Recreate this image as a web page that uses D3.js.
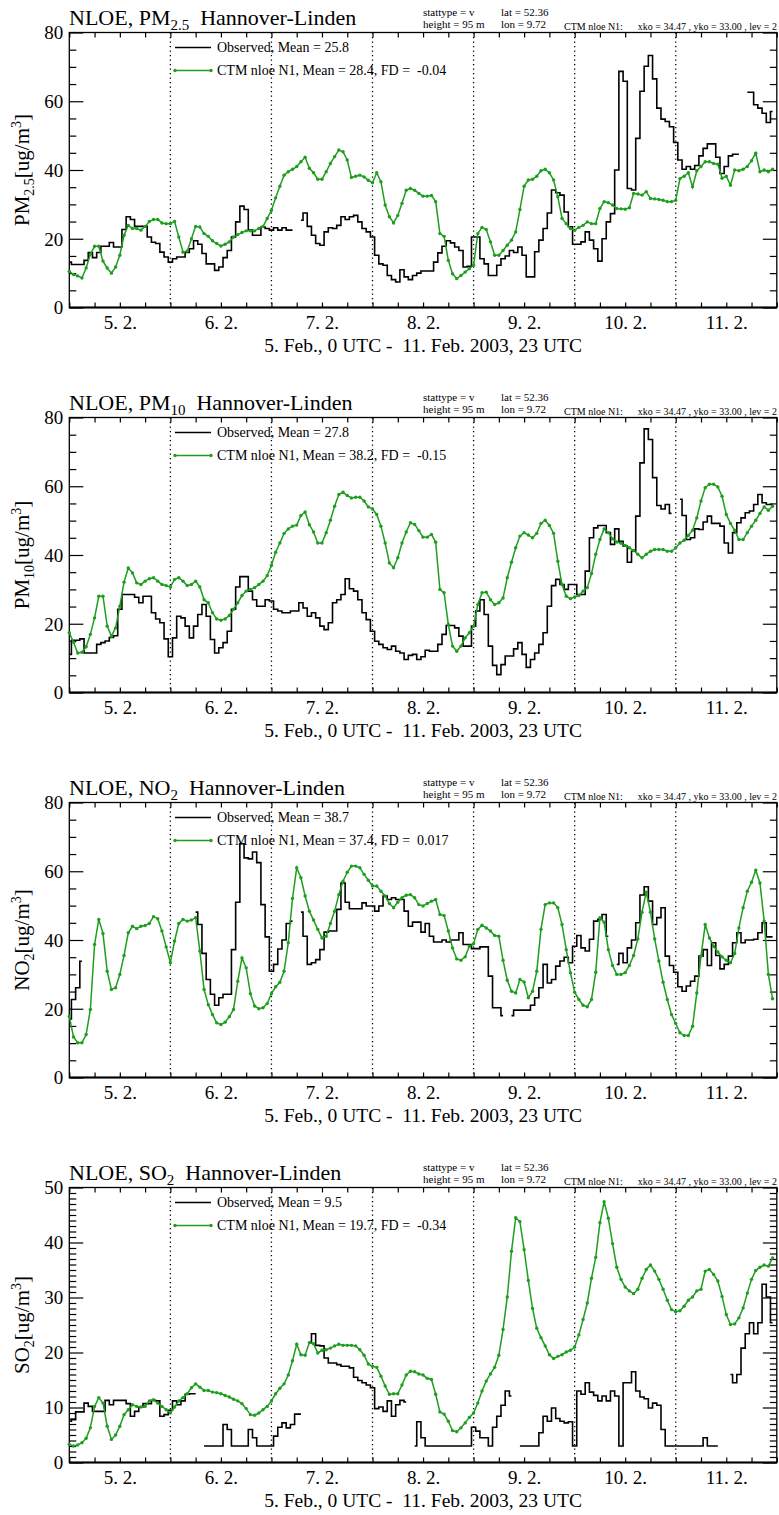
<!DOCTYPE html>
<html>
<head>
<meta charset="utf-8">
<script src="https://cdn.jsdelivr.net/npm/d3@7"></script>
<style>
  body { margin: 0; background: #fff; }
  svg { font-family: "Liberation Serif", "DejaVu Serif", serif; }
  text { white-space: pre; }
</style>
</head>
<body>
<svg id="chart" width="779" height="1515"></svg>
<script>
// hourly values, 5. Feb 0 UTC .. 11. Feb 23 UTC (168 h); null = no observation
var pm25Obs = [
  13.2, 12.5, 12.5, 12.5, 13.7, 16, 14.5, 16, 17.8, 17.8, 18.9, 17.6, 17.6, 22.7, 26.4, 25.6, 23.6, 23.6, 23.6, 20.5, 19, 18.6, 16.1, 14.7,
  13.2, 14.2, 14.7, 14.7, 16, 17.1, 19.4, 18.4, 15.7, 12.7, 12.7, 10.8, 11.8, 14.5, 16.6, 20.5, 24.9, 29.5, 28.5, 22.5, 21, 21, 23.4, 23,
  22.5, 23.2, 22.5, 23.2, 22.5, 22.5, null, 25.4, 27.5, 23.6, 21, 18.6, 18.1, 22, 23.2, 23, 23.9, 26.4, 25.6, 26.4, 26.8, 24.9, 23, 22,
  20.5, 15.2, 12.7, 12.3, 9.3, 8.1, 7.4, 11, 8.9, 8.1, 9.3, 10, 10.6, 10.6, 10.6, 13.2, 15.9, 17.8, 19.4, 18.8, 17.6, 16.6, 11.8, 12,
  20.5, 20.5, 14.2, 12.7, 9.3, 9.3, 12.3, 14.2, 15, 16.6, 16, 17.6, 15.2, 8.9, 8.9, 16.2, 19.6, 23, 27.5, 34.2, 33.4, 32.7, 27.8, 23.5,
  18.4, 18.4, 19.1, 22, 19.6, 17.1, 13.5, 20, 24.9, 27.3, 40, 68.7, 65.8, 34.6, 34.2, 49.2, 62.9, 70.2, 73.3, 66.5, 58, 54.8, 54.1, 52.6,
  48, 42.9, 40.2, 41, 40.2, 41.3, 44.1, 46.3, 47.6, 47.6, 43.7, 39, 41, 44.1, 44.6, 44.6, null, 62.6, 62.6, 59, 58, 56.5, 53.8, 57
];
var pm25Mod = [
  10.5, 9.6, 9.2, 8.6, 11.5, 15.5, 17.8, 17.8, 13.5, 11.5, 10, 11.8, 15.2, 21, 23.9, 23, 23, 22.5, 23.6, 25, 25.6, 25.6, 24.6, 24.4,
  24.4, 25, 20.5, 16.1, 16.4, 20, 23.6, 23.4, 21.5, 20.7, 19.4, 18.6, 17.9, 18.4, 19.1, 20.5, 21.2, 21.8, 22.3, 22.3, 22.3, 23, 23.6, 25.9,
  28.3, 31.9, 35.3, 38.5, 39.5, 40.2, 41, 42.4, 43.7, 40.5, 39.2, 37.3, 37.3, 39.5, 41.9, 43.9, 45.8, 45.3, 42.9, 37.8, 38.2, 38.5, 38, 37,
  36.3, 39.2, 36.6, 29.8, 26.4, 24.6, 26.8, 30.3, 34.1, 34.6, 34.1, 33.2, 32.4, 32.4, 32.6, 30.8, 21.5, 20.7, 13.7, 9.8, 8.4, 9.3, 10.3, 11.3,
  12.3, 21.5, 23.3, 22.7, 19.1, 15.2, 15.2, 16.6, 18.1, 19.6, 22, 28.5, 35.3, 37.1, 37.3, 38.2, 39.8, 40.2, 39.2, 37.1, 32.2, 25.9, 24.4, 23,
  22.5, 23.3, 23.9, 24.9, 24.4, 24.4, 28.8, 30.8, 30.5, 29.8, 28.8, 28.7, 28.6, 29, 33.2, 33, 32.7, 33.7, 31.7, 31.6, 31.4, 31.2, 30.8, 30.8,
  31.2, 37.5, 38.2, 39.2, 35.1, 39.8, 41, 42.4, 42.4, 41.9, 41.7, 37.6, 38.2, 35.6, 40, 39.8, 40.2, 41, 42.7, 44.9, 39.5, 40, 39.5, 40.2
];
var pm10Obs = [
  11.1, 15.2, 15.2, 15.6, 11.5, 11.5, 11.5, 14, 14.5, 15, 16, 16.5, 24.2, 28.5, 28.5, 28.5, 27.7, 26.1, 28, 28, 23.2, 21.4, 20.3, 15.6,
  10.4, 15.9, 22.2, 21.7, 19.3, 15.9, 19.3, 22.7, 25.6, 22.2, 15.4, 11.5, 13, 14.5, 17.8, 24.2, 30.7, 33.7, 33.7, 29.5, 27, 25.1, 25.1, 27,
  26.6, 24.2, 23.7, 23.2, 23.2, 23.7, 23.7, 26.1, 24.6, 22.2, 23.2, 21.7, 19.3, 18.3, 20.3, 26.1, 27, 28.5, 33.1, 30.2, 29.5, 27, 23.2, 21.2,
  17.8, 14.9, 14, 13, 12.5, 13.5, 12, 11.5, 9.6, 10.8, 11.1, 9.6, 10.4, 12.3, 12, 12, 14, 16.9, 19.5, 19.5, 18.8, 16.4, 13.5, 13.5,
  19.3, 23.7, 27, 22.7, 13.5, 7.9, 5.2, 8.1, 10.6, 10.6, 12.7, 14.5, 11.1, 7.3, 9.6, 11.5, 14, 17.4, 25.1, 31.1, 32.9, 31.4, 30, 31.4,
  31.4, 28.5, 28.5, 35.3, 45, 47.9, 48.6, 48.6, 46.5, 43.1, 47.6, 44, 42.6, 37.9, 41.1, 51.3, 66.8, 76.7, 73.6, 62.5, 54.4, 53.4, 54.7, 52.1,
  null, 56.2, 51.5, 44.5, 45, 47.6, 47.4, 49.6, 51.3, 49.2, 49.2, 48.4, 43.5, 40.6, 46.5, 49.4, 50.8, 52.3, 52.8, 54.7, 57.6, 55.2, 54.7, 54.7
];
var pm10Mod = [
  17.4, 14.6, 11.5, 11.7, 13.3, 16.9, 21.7, 28, 28, 19.3, 16.4, 18.8, 25.1, 32.1, 36.2, 34.8, 31.9, 31.4, 32.4, 33.1, 33.4, 32.4, 31.4, 31.1,
  30.7, 32.9, 33.4, 32.4, 31.1, 31.4, 32.4, 30.7, 27, 26.1, 23.2, 21.4, 21, 21.4, 22.4, 24.2, 26.1, 28.2, 29.5, 30, 30.5, 31.4, 32.4, 34,
  37, 40.8, 43.5, 46.3, 47.6, 48.4, 48.7, 51.5, 52.5, 48.8, 46.7, 43.5, 43.5, 46.5, 50.1, 54.2, 57.6, 58.3, 57.3, 56.6, 56.8, 56.8, 55.7, 54,
  53.4, 51.8, 48.4, 43.5, 37.7, 36.3, 39.2, 43.5, 46.7, 49.4, 48.9, 47.1, 45.2, 45.2, 46, 43.7, 30, 29, 19.8, 13.5, 12, 13.5, 15.9, 17.4,
  19.3, 25.6, 29, 29.2, 27, 25.6, 26.1, 27.5, 33.4, 37.9, 42.1, 45.5, 46.5, 45.8, 45, 46.3, 49.2, 50.1, 48.6, 46.3, 38.2, 31.4, 28, 27.3,
  27.8, 28.2, 29.5, 30.5, 34.6, 40.2, 44.5, 47.6, 46.5, 44.7, 43.8, 43.4, 42.8, 42.1, 41.3, 40.2, 39.2, 40.2, 41.1, 41.6, 41.6, 41.6, 41.1, 41.1,
  42.1, 43.5, 44.3, 45.7, 47.2, 50.8, 55.7, 59.6, 60.6, 60.6, 59.8, 57.1, 51.8, 49.2, 47.2, 44.5, 44.5, 46.5, 48.4, 50.1, 52.1, 54, 53, 54.2
];
var no2Obs = [
  17, 22.7, 26.1, 33.8, null, null, null, null, null, null, null, null, null, null, null, null, null, null, null, null, null, null, null, null,
  null, null, null, null, null, null, 48.1, 44.5, 36.1, 28.5, 24.2, 21, 23.2, 24.2, 24.2, 37.2, 51, 68, 63.9, 63.6, 65.6, 62.5, 50.3, 40.9,
  30.9, 32.9, 37.4, 40, 44.8, 45.5, null, 48.1, 41.1, 32.9, 33.4, 34.3, 37.2, 42.3, 42.6, 42.6, 48.9, 56.6, 51, 49.1, 49.1, 49.1, 50.8, 49.9,
  49.9, 48.4, 49.9, 52.8, 51.8, 52.3, 51.8, 51.8, 48.4, 44, 45.2, 45.2, 42.3, 44.8, 41.1, 39.4, 39.4, 40, 39.4, 40, 40, 42.1, 38.7, 38.7,
  37.5, 37.5, 38, 38, 29.5, 20.3, 20.3, 18, null, 18, 19.6, 19.6, 19.6, 19.6, 21, 23.2, 26.1, 32.9, 27.5, 28.5, 32.4, 33.9, 35, 33.4,
  38.2, 41.3, 37.7, 36.8, 40.2, 45.5, 46, 47.4, 41.1, null, 32.9, 36.1, 33.4, 37.7, 40, 45, 53.1, 55.5, 51.3, 44.5, 46.5, 49.4, 35.3, 32.6,
  30.6, 26.4, 25.1, 26.6, 28, 29.5, 35.3, 37.2, 32.6, 39.2, 35.5, 31.6, 32.9, 35.3, 39.2, 42.1, 39.2, 40, 40, 40.2, 42.1, 45, 40.9, 40.9
];
var no2Mod = [
  17.8, 11.8, 10.1, 10.1, 12.5, 19.8, 38.7, 46, 41.9, 30.9, 25.6, 26.1, 30, 35.5, 42.1, 44, 43.3, 44, 44.2, 44.8, 46.8, 46.2, 42.6, 38,
  33.4, 39.7, 44.8, 46, 45.5, 45.8, 46.5, 36.8, 25.6, 21.2, 18.3, 15.9, 15.4, 16.1, 17.7, 19.8, 28, 34.8, 31.9, 24.4, 20.8, 20, 20.3, 21.5,
  24.4, 26.4, 27.7, 30.9, 39.2, 52.1, 61, 58.1, 52.8, 48.4, 45.8, 43.1, 40.6, 41.1, 44.8, 48.4, 53.2, 57.1, 59.7, 61.5, 61.5, 61, 59.1, 57.4,
  55.7, 55.7, 54.2, 52.8, 50.6, 49.4, 51, 52.3, 53, 53.2, 52.3, 50.3, 49.9, 50.6, 51.3, 51.8, 47.4, 47.1, 42.6, 37.7, 34.5, 34.1, 35.1, 38.2,
  38.9, 43.1, 44.3, 43.5, 42.6, 41.3, 41.1, 34.1, 28.3, 25.1, 24.6, 28.5, 27.8, 23.2, 25.1, 30.9, 43.1, 50.3, 50.8, 50.8, 49.4, 44.5, 37.2, 30.5,
  24.8, 22.7, 21, 20.6, 22.7, 30.6, 46.5, 45.2, 37.2, 32.6, 30, 30, 30.5, 32.6, 35.5, 40.3, 48.1, 53.9, 48.1, 40.3, 33.9, 27.7, 22.7, 18.3,
  15.7, 13, 12.2, 12.2, 14.9, 24.6, 35.3, 44.5, 40.6, 38.2, 36.5, 35.1, 34.1, 33.4, 36.1, 43.5, 49.4, 54.2, 56.8, 60.3, 56.6, 45.5, 30, 22.9
];
var so2Obs = [
  7.5, 7.8, 9.2, 9.2, 10.8, 10.2, 9.3, 9.3, 9.3, 11.3, 10.5, 11.3, 11.3, 11.3, 10.7, 8.4, 9.3, 10.1, 10.7, 10.7, 11.3, 11.2, 8.4, 8.7,
  9.5, 11.2, 10.5, 11.2, 12.4, 12.5, 12.5, null, 3, 3, 3, 3, 3, 6.9, 6, 3, 3, 3, 3, 6, 4.5, 3, 3, 3,
  3, 4.8, 6.4, 7.2, 6.3, 6.9, 8.8, 8.8, null, 21.8, 23.4, 21.3, 21.2, 19, 18.1, 18.1, 17.8, 17.5, 17.5, 17.2, 15.5, 14.9, 14.5, 14.1,
  13.6, 9.8, 10.1, 9.3, 11.2, 8.4, 10.5, 11.3, 11, null, 3, 7.4, 4.5, 3, 3, 3, 3, 3, 3, 3, 3, 3, 3, 3,
  6.4, 5.7, 4.5, 4.5, 3, 6.4, 8.4, 10.4, 13, 12.1, null, 3, 3, 3, 3, 3, 5.4, 8.4, 7.5, 9.9, 8, 7.5, 7.2, 7.4,
  3, 13, 12.4, 14.5, 12.8, 12.2, 11.2, 12.1, 11.2, 13, 12.1, 3, 14.5, 14.5, 16.5, 13, 11.9, 11.6, 9.9, 10.8, 10.4, 6, 3, 3,
  3, 3, 3, 3, 3, 3, 3, 4.5, 3, 3, 3, null, null, 16, 14.5, 16, 20.8, 23.4, 25.4, 23.4, 25.4, 32.4, 30.1, 25.4
];
var so2Mod = [
  3.3, 3, 3.2, 3.6, 4.4, 6.3, 10.2, 11.8, 10.8, 6.6, 4.2, 5, 6.6, 8.7, 9.6, 10.5, 10.2, 10.1, 10.2, 11.2, 11.4, 10.8, 10.2, 9.6,
  9, 10.1, 11.2, 11.8, 12.5, 13.6, 14.3, 13.7, 13.1, 13.1, 12.8, 12.7, 12.5, 12.2, 11.9, 11.5, 11.2, 10.7, 9.8, 8.7, 8.6, 9, 9.6, 10.2,
  11.2, 12.5, 13.5, 14.3, 15.9, 18.5, 21.5, 19.6, 19.5, 21.8, 21.6, 19.9, 20.4, 20.5, 20.8, 21.2, 21.5, 21.3, 21.3, 21.3, 21.2, 20.5, 19.5, 17.9,
  17.5, 17.3, 15.7, 13.9, 12.4, 12.5, 12.5, 14.1, 15.9, 16.6, 16.5, 16.1, 15.9, 15.3, 15.1, 12.4, 9.2, 8.8, 7.5, 5.8, 5.6, 6.3, 7.2, 8.2,
  9, 10.8, 13, 14.8, 16.1, 17.3, 19.5, 24.2, 30.1, 38.4, 44.5, 43.8, 38.7, 33.1, 28, 24.4, 22.7, 21.2, 19.6, 18.9, 19.3, 19.6, 20.1, 20.4,
  21, 23.2, 26, 29, 33.5, 37.3, 43.6, 47.4, 44.4, 39.8, 35.5, 33.3, 31.9, 31.2, 30.7, 31.5, 33.5, 35.1, 35.9, 34.8, 33.3, 31.5, 29.5, 27.8,
  27.4, 27.6, 28.4, 29.5, 30.1, 31.2, 31.5, 34.8, 35.1, 34.2, 33, 30.2, 26.9, 25.1, 25.2, 26.3, 28.1, 30.8, 33.3, 34.9, 35.5, 35.9, 35.7, 37.2
];

var dayLabels = ["5. 2.", "6. 2.", "7. 2.", "8. 2.", "9. 2.", "10. 2.", "11. 2."];
var species = ["PM", "PM", "NO", "SO"];
var speciesSub = ["2.5", "10", "2", "2"];
var obsMean = ["25.8", "27.8", "38.7", "9.5"];
var modMean = ["28.4", "38.2", "37.4", "19.7"];
var modFD = ["-0.04", "-0.15", "0.017", "-0.34"];
var yMax = [80, 80, 80, 50];
var yMajor = [20, 20, 20, 10];
var yMinor = [5, 5, 5, 1];

var panels = [
  {obs: pm25Obs, mod: pm25Mod},
  {obs: pm10Obs, mod: pm10Mod},
  {obs: no2Obs, mod: no2Mod},
  {obs: so2Obs, mod: so2Mod}
];

var svg = d3.select("#chart");
var green = "#1e9e1e";
var hours = d3.range(168);

var x = d3.scaleLinear().domain([0, 168]).range([69.3, 776.8]);
var x0 = x.range()[0], x1 = x.range()[1];

var panelTop = 32.5, panelStep = 385, panelH = 275;

// strip the axis domain path and the axis' own sans-serif font
function plain(g) {
  g.select(".domain").remove();
  g.attr("font-family", null).attr("font-size", null);
}

panels.forEach(function(p, i) {
  var top = panelTop + i * panelStep, bottom = top + panelH;
  var y = d3.scaleLinear().domain([0, yMax[i]]).range([bottom, top]);
  var g = svg.append("g");

  // title
  var t = g.append("text").attr("x", 69).attr("y", top - 8)
    .style("font-size", "22px");
  t.append("tspan").text("NLOE, " + species[i]);
  t.append("tspan").attr("dy", 5).style("font-size", "15px").text(speciesSub[i]);
  t.append("tspan").attr("dy", -5).text("  Hannover-Linden");

  // station info
  var info = g.append("g").style("font-size", "11px");
  info.append("text").attr("x", 423).attr("y", top - 16.5).text("stattype = v");
  info.append("text").attr("x", 423).attr("y", top - 5).text("height = 95 m");
  info.append("text").attr("x", 501).attr("y", top - 16.5).text("lat = 52.36");
  info.append("text").attr("x", 501).attr("y", top - 5).text("lon = 9.72");
  g.append("text").attr("x", 564).attr("y", top - 3).style("font-size", "10px").text("CTM nloe N1:");
  g.append("text").attr("x", 777).attr("y", top - 3).attr("text-anchor", "end")
    .style("font-size", "10px").text("xko = 34.47 , yko = 33.00 , lev = 2");

  // ticks
  g.append("g").attr("transform", "translate(0," + bottom + ")")
    .call(d3.axisBottom(x).tickValues(d3.range(0, 169, 6)).tickSize(-5).tickFormat(""))
    .call(plain);
  g.append("g").attr("transform", "translate(0," + top + ")")
    .call(d3.axisTop(x).tickValues(d3.range(0, 169, 6)).tickSize(-5).tickFormat(""))
    .call(plain);

  var majors = d3.range(0, yMax[i] + 0.1, yMajor[i]);
  var minors = d3.range(0, yMax[i] + 0.1, yMinor[i]).filter(function(v) { return v % yMajor[i] !== 0; });

  var yl = g.append("g").attr("transform", "translate(" + x0 + ",0)")
    .call(d3.axisLeft(y).tickValues(majors).tickSize(-14).tickPadding(6).tickFormat(d3.format("d")))
    .call(plain);
  yl.selectAll("text").style("font-size", "19px").attr("dy", "0.34em");
  g.append("g").attr("transform", "translate(" + x0 + ",0)")
    .call(d3.axisLeft(y).tickValues(minors).tickSize(-7).tickFormat(""))
    .call(plain);
  g.append("g").attr("transform", "translate(" + x1 + ",0)")
    .call(d3.axisRight(y).tickValues(majors).tickSize(-14).tickFormat(""))
    .call(plain);
  g.append("g").attr("transform", "translate(" + x1 + ",0)")
    .call(d3.axisRight(y).tickValues(minors).tickSize(-7).tickFormat(""))
    .call(plain);
  g.selectAll(".tick line").attr("stroke-width", 1.2);

  // day labels
  var xl = g.append("g").attr("transform", "translate(0," + bottom + ")")
    .call(d3.axisBottom(x).tickValues(d3.range(12, 168, 24)).tickSize(0)
      .tickFormat(function(d, k) { return dayLabels[k]; }))
    .call(plain);
  xl.selectAll("text").style("font-size", "19px").attr("y", 21).attr("dy", null);

  g.append("text").attr("x", (x0 + x1) / 2).attr("y", bottom + 44)
    .attr("text-anchor", "middle").style("font-size", "19.5px")
    .text("5. Feb., 0 UTC -  11. Feb. 2003, 23 UTC");

  // y label
  var cy = (top + bottom) / 2;
  var yt = g.append("text").attr("transform", "translate(29," + cy + ") rotate(-90)")
    .attr("text-anchor", "middle").style("font-size", "21px");
  yt.append("tspan").text(species[i]);
  yt.append("tspan").attr("dy", 5).style("font-size", "14px").text(speciesSub[i]);
  yt.append("tspan").attr("dy", -5).text("[ug/m");
  yt.append("tspan").attr("dy", -8).style("font-size", "14px").text("3");
  yt.append("tspan").attr("dy", 8).text("]");

  // day separators
  g.selectAll(".sep").data(d3.range(24, 168, 24)).enter().append("line")
    .attr("x1", function(d) { return x(d); }).attr("x2", function(d) { return x(d); })
    .attr("y1", top).attr("y2", bottom)
    .attr("stroke", "#000").attr("stroke-width", 1.3).attr("stroke-dasharray", "1.3,3.2");

  // frame
  g.append("rect").attr("x", x0).attr("y", top).attr("width", x1 - x0).attr("height", panelH)
    .attr("fill", "none").attr("stroke", "#000").attr("stroke-width", 1.3);
  g.append("line").attr("x1", x0).attr("x2", x1).attr("y1", bottom).attr("y2", bottom)
    .attr("stroke", "#000").attr("stroke-width", 2.2);

  // observed (histogram style)
  var obsLine = d3.line()
    .defined(function(h) { return p.obs[h] != null; })
    .x(function(h) { return x(h); })
    .y(function(h) { return y(p.obs[h]); })
    .curve(d3.curveStep);
  g.append("path").attr("d", obsLine(hours))
    .attr("fill", "none").attr("stroke", "#000").attr("stroke-width", 1.6);

  // model
  var modLine = d3.line()
    .x(function(h) { return x(h); })
    .y(function(h) { return y(p.mod[h]); });
  g.append("path").attr("d", modLine(hours))
    .attr("fill", "none").attr("stroke", green).attr("stroke-width", 1.5);
  g.selectAll(".dot").data(hours).enter().append("circle")
    .attr("cx", function(h) { return x(h); })
    .attr("cy", function(h) { return y(p.mod[h]); })
    .attr("r", 1.7).attr("fill", green);

  // legend
  var lg = g.append("g").style("font-size", "14px");
  lg.append("line").attr("x1", 175).attr("x2", 211).attr("y1", top + 15).attr("y2", top + 15)
    .attr("stroke", "#000").attr("stroke-width", 1.6);
  lg.append("text").attr("x", 217).attr("y", top + 19).text("Observed, Mean = " + obsMean[i]);
  lg.append("line").attr("x1", 175).attr("x2", 211).attr("y1", top + 38).attr("y2", top + 38)
    .attr("stroke", green).attr("stroke-width", 1.5);
  lg.selectAll(".ld").data([175, 211]).enter().append("circle")
    .attr("cx", function(d) { return d; }).attr("cy", top + 38).attr("r", 1.7).attr("fill", green);
  lg.append("text").attr("x", 217).attr("y", top + 42)
    .text("CTM nloe N1, Mean = " + modMean[i] + ", FD =  " + modFD[i]);
});
</script>
</body>
</html>
